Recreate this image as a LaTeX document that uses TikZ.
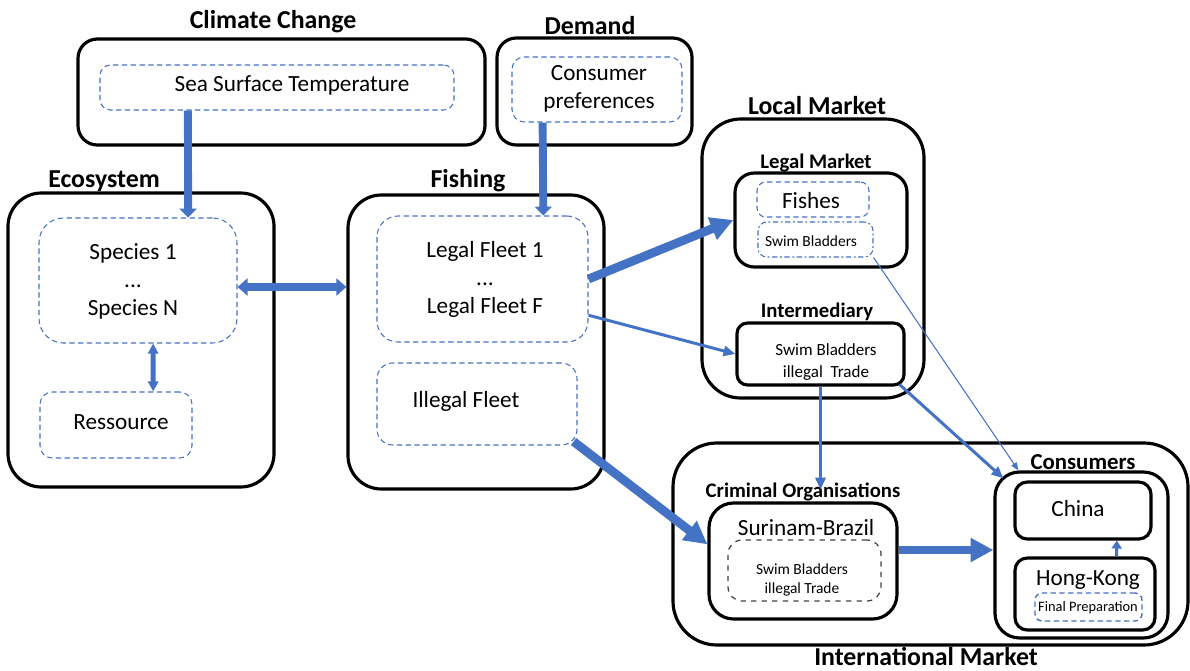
\documentclass[tikz,border=0pt]{standalone}
\usepackage{fontspec}
\setmainfont{Carlito}
\usepackage{tikz}
\usetikzlibrary{arrows.meta, calc, fit}
\definecolor{flowblue}{RGB}{68,114,196}
\tikzset{
    block/.style={draw=black, line width=1.8pt, rounded corners=#1, inner sep=0pt},
    block/.default=11pt,
    inner/.style={draw=flowblue, line width=0.6pt, dash pattern=on 3pt off 2pt, rounded corners=#1, inner sep=0pt},
    inner/.default=7pt,
    bigtitle/.style={font=\bfseries\fontsize{14.7}{16}\selectfont, inner sep=0pt},
    subtitle/.style={font=\bfseries\fontsize{11.8}{13}\selectfont, inner sep=0pt},
    txt/.style={font=\fontsize{13.2}{15.9}\selectfont, align=center, inner sep=0pt},
    smalltxt/.style={font=\fontsize{8.8}{10.8}\selectfont, align=center, inner sep=0pt},
    flowfat/.style={draw=flowblue, line width=5pt, -{Triangle[length=13pt,width=13pt]}},
    flowdown/.style={draw=flowblue, line width=4.5pt, -{Triangle[length=5pt,width=9.6pt]}},
    flowmid/.style={draw=flowblue, line width=1.7pt, -{Triangle[length=6.8pt,width=5.7pt]}},
    flowthin/.style={draw=flowblue, line width=0.6pt, -{Triangle[length=4.5pt,width=3.5pt]}}
}

\begin{document}
\begin{tikzpicture}[x=0.02cm, y=-0.02cm]
    \useasboundingbox (0,0) rectangle (1190,670);

    % upper drivers
    \node[block, fit={(78,39) (485,145)}] (climate) {};
    \node[inner=6pt, fit={(100,65) (454,110)}] (sst) {};
    \node[bigtitle] (cctitle) at (273,22) {Climate Change};
    \node[txt] (ssttxt) at (292,85) {Sea Surface Temperature};

    \node[block, fit={(497,38) (692,145)}] (demand) {};
    \node[inner, fit={(512,57) (682,122)}] (pref) {};
    \node[bigtitle] (demtitle) at (590,26) {Demand};
    \node[txt] (preftxt) at (599,89) {Consumer\\preferences};

    % ecosystem and fishing
    \node[block=19pt, fit={(8,193) (274,487)}] (eco) {};
    \node[inner=14pt, fit={(39,218) (237,343)}] (species) {};
    \node[inner, fit={(40,392) (192,458)}] (res) {};
    \node[bigtitle] (ecotitle) at (104,181) {Ecosystem};
    \node[txt] (spectxt) at (133,281) {Species 1\\...\\Species N};
    \node[txt] (restxt) at (121,422) {Ressource};

    \node[block=19pt, fit={(348,195) (604,489)}] (fishing) {};
    \node[inner=12pt, fit={(377,216) (588,342)}] (lfleet) {};
    \node[inner=9pt, fit={(377,363) (577,445)}] (ifleet) {};
    \node[bigtitle] (fishtitle) at (468,181) {Fishing};
    \node[txt] (lfltxt) at (485,279) {Legal Fleet 1\\...\\Legal Fleet F};
    \node[txt] (ifltxt) at (466,401) {Illegal Fleet};

    % local market
    \node[block=22pt, fit={(702,119) (924,398)}] (local) {};
    \node[bigtitle] (lmtitle) at (817,106) {Local Market};
    \node[block, fit={(735,173) (907,267)}] (legal) {};
    \node[subtitle] (legtitle) at (816,163) {Legal Market};
    \node[inner=5pt, fit={(757,182) (869,217)}] (fishes) {};
    \node[inner=5pt, dash pattern=on 3pt off 1.5pt on 1pt off 1.5pt, fit={(758,222) (873,257)}] (swim) {};
    \node[txt] (fishtxt) at (811,201) {Fishes};
    \node[smalltxt] (swimtxt) at (811,241) {Swim Bladders};
    \node[block=6pt, fit={(737,323) (904,385)}] (inter) {};
    \node[subtitle] (intertitle) at (817,312) {Intermediary};
    \node[smalltxt, font=\fontsize{9.7}{12}\selectfont] (intertxt) at (826,362) {Swim Bladders\\illegal\ \ Trade};

    % international market
    \node[block=25pt, fit={(673,443) (1188,645)}] (intl) {};
    \node[bigtitle, anchor=base] (intltitle) at (926,665) {International Market};
    \node[subtitle] (crimtitle) at (803,492) {Criminal Organisations};
    \node[block=14pt, fit={(709,503) (897,619)}] (surin) {};
    \node[txt] (surtxt) at (806,528) {Surinam-Brazil};
    \node[draw=black!75, line width=0.7pt, dashed, rounded corners=8pt, inner sep=0pt, fit={(728,540) (881,601)}] (surinbox) {};
    \node[smalltxt] (surinboxtxt) at (802,580) {Swim Bladders\\illegal Trade};

    \node[block=14pt, fit={(995,472) (1168,638)}] (cons) {};
    \node[bigtitle, font=\bfseries\fontsize{13}{15}\selectfont] (constitle) at (1083,462) {Consumers};
    \node[block=7pt, fit={(1015,482) (1151,539)}] (china) {};
    \node[txt] (chinatxt) at (1078,509) {China};
    \node[block=7pt, fit={(1015,558) (1155,630)}] (hk) {};
    \node[txt] (hktxt) at (1088,580) {Hong-Kong};
    \node[inner=4pt, line width=0.8pt, fit={(1035,593) (1142,621)}] (fprep) {};
    \node[smalltxt, font=\fontsize{8.2}{10}\selectfont] (fptxt) at (1088,608) {Final Preparation};

    % flows
    \draw[flowdown] ($(sst.south west)!0.249!(sst.south east)$) -- ($(species.north west)!0.752!(species.north east)$);
    \draw[flowdown] ($(pref.south west)!0.182!(pref.south east)$) -- ($(lfleet.north west)!0.787!(lfleet.north east)$);
    \draw[draw=flowblue, line width=4pt, {Triangle[length=5.7pt,width=9.6pt]}-{Triangle[length=5.7pt,width=9.6pt]}]
        ([yshift=-3.7pt]species.east) -- ([yshift=-3.7pt]species.east -| fishing.west);
    \draw[draw=flowblue, line width=2.8pt, {Triangle[length=5.7pt,width=5.7pt]}-{Triangle[length=5.7pt,width=5.7pt]}]
        ($(species.south west)!0.576!(species.south east)$) -- ($(res.north west)!0.743!(res.north east)$);
    \draw[flowfat] (lfleet.east) -- (legal.west);
    \draw[flowmid] ($(lfleet.east)!0.57!(lfleet.south east)$) -- (inter.west);
    \draw[flowfat] ($(ifleet.south east)+(-4,-4)$) -- ($(surin.west)!0.28!(surin.north west)$);
    \draw[flowmid] (inter.south) -- ([yshift=-4pt]inter.south |- crimtitle.north);
    \draw[flowmid] ($(inter.south east)+(-6,-2)$) -- ($(cons.north west)+(10,8)$);
    \draw[flowthin] (swim.south east) -- ($(cons.north west)+(25,0)$);
    \draw[flowfat] ($(surin.east)+(0,-11)$) coordinate (surout) -- (surout -| cons.west);
    \draw[flowmid, -{Triangle[length=4.5pt,width=5.7pt]}] ($(hk.north west)!0.72!(hk.north east)$) -- ($(china.south west)!0.743!(china.south east)$);
\end{tikzpicture}
\end{document}
